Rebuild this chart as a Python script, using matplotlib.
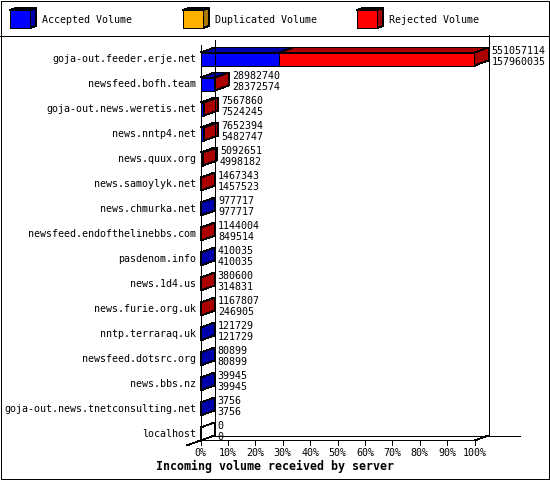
import matplotlib
matplotlib.use("Agg")
import matplotlib.pyplot as plt
from matplotlib.patches import Polygon, Rectangle

# data: first label = received, second = accepted
servers = [
    "goja-out.feeder.erje.net", "newsfeed.bofh.team", "goja-out.news.weretis.net",
    "news.nntp4.net", "news.quux.org", "news.samoylyk.net", "news.chmurka.net",
    "newsfeed.endofthelinebbs.com", "pasdenom.info", "news.1d4.us",
    "news.furie.org.uk", "nntp.terraraq.uk", "newsfeed.dotsrc.org", "news.bbs.nz",
    "goja-out.news.tnetconsulting.net", "localhost",
]
received = [551057114, 28982740, 7567860, 7652394, 5092651, 1467343, 977717,
            1144004, 410035, 380600, 1167807, 121729, 80899, 39945, 3756, 0]
accepted = [157960035, 28372574, 7524245, 5482747, 4998182, 1457523, 977717,
            849514, 410035, 314831, 246905, 121729, 80899, 39945, 3756, 0]
duplicated = [0, 0, 0, 0, 0, 0, 0, 0, 0, 0, 0, 0, 0, 0, 0, 0]

series_names = ["Accepted Volume", "Duplicated Volume", "Rejected Volume"]
face_colors = ["#0000ff", "#ffb000", "#ff0000"]
shade_colors = ["#0000aa", "#aa7500", "#aa0000"]
ticks = [0, 10, 20, 30, 40, 50, 60, 70, 80, 90, 100]
tick_labels = [f"{t}%" for t in ticks]
title = "Incoming volume received by server"

# layout in pixels
W, H = 550, 480
X0, X100 = 200.5, 474.5        # 0% and 100% on the front plane
ROW0, PITCH = 59.0, 25.0       # centre of first row, row spacing
BAR_H = 13.0
DEPTH_X, DEPTH_Y = 14.0, 5.0
LW = 0.6
FS = 7.2
MONO = "DejaVu Sans Mono"

sx = (X100 - X0) / 100.0
fig = plt.figure(figsize=(W / 100, H / 100), dpi=100)
fig.patch.set_facecolor("white")

# pixel overlay for frame, legend and title
pix = fig.add_axes([0, 0, 1, 1])
pix.set_xlim(0, W)
pix.set_ylim(H, 0)
pix.axis("off")

# chart axes: x in percent of largest server, y in row index
ax = fig.add_axes([0, 0, 1, 1])
ax.set_xlim((0 - X0) / sx, (W - X0) / sx)
ax.set_ylim((H - ROW0) / PITCH, (0 - ROW0) / PITCH)
ax.axis("off")

dx = DEPTH_X / sx
dy = DEPTH_Y / PITCH
hh = BAR_H / 2 / PITCH
n = len(servers)
floor = n - 1 + hh
wall_top = (45 - ROW0) / PITCH
sep_top = (35 - ROW0) / PITCH


def line(a, xs, ys):
    a.plot(xs, ys, color="black", lw=LW, antialiased=False, solid_capstyle="butt")


# walls and floor
line(ax, [0, 0], [wall_top, floor])
line(ax, [dx, dx], [wall_top - dy, floor - dy])
line(ax, [100 + dx, 100 + dx], [sep_top, floor - dy])
line(ax, [dx, 100 + dx + 31 / sx], [floor - dy, floor - dy])
line(ax, [0, 100, 100 + dx], [floor, floor, floor - dy])
line(ax, [-dx, 0], [floor + dy, floor])

scale = 100.0 / max(received)
for i, name in enumerate(servers):
    rejected = received[i] - accepted[i] - duplicated[i]
    widths = [accepted[i] * scale, duplicated[i] * scale, rejected * scale]
    top, bot = i - hh, i + hh
    x = 0.0
    side = "white"
    for w, fc, sc in zip(widths, face_colors, shade_colors):
        if w <= 0:
            continue
        ax.add_patch(Rectangle((x, top), w, 2 * hh, fc=fc, ec="black",
                               lw=LW, antialiased=False))
        ax.add_patch(Polygon([(x, top), (x + dx, top - dy), (x + w + dx, top - dy),
                              (x + w, top)], fc=sc, ec="black", lw=LW,
                             antialiased=False))
        x += w
        side = sc
    ax.add_patch(Polygon([(x, top), (x + dx, top - dy), (x + dx, bot - dy), (x, bot)],
                         fc=side, ec="black", lw=LW, antialiased=False))

    ax.annotate(name, (0, i), xytext=(-4.5, 0), textcoords="offset pixels",
                ha="right", va="center", fontsize=FS, family=MONO)
    ax.annotate(f"{received[i]}\n{accepted[i]}", (x + dx, i - dy / 2),
                xytext=(3, 0), textcoords="offset pixels", ha="left",
                va="center", fontsize=FS, family=MONO, linespacing=1.1)

for t, lab in zip(ticks, tick_labels):
    line(ax, [t, t], [floor, floor + 4 / PITCH])
    ax.annotate(lab, (t, floor), xytext=(0, -13), textcoords="offset pixels",
                ha="center", va="center", fontsize=FS, family=MONO)

pix.text(W / 2, 466, title, ha="center", va="center", fontsize=8.4,
         family=MONO, fontweight="bold")

# legend boxes
for name, fc, sc, lx in zip(series_names, face_colors, shade_colors, [10, 183, 357]):
    pix.add_patch(Polygon([(lx, 10), (lx + 6, 8), (lx + 26, 8), (lx + 20, 10)],
                          fc=sc, ec="black", lw=LW, antialiased=False))
    pix.add_patch(Polygon([(lx + 20, 10), (lx + 26, 8), (lx + 26, 26), (lx + 20, 28)],
                          fc=sc, ec="black", lw=LW, antialiased=False))
    pix.add_patch(Rectangle((lx, 10), 20, 18, fc=fc, ec="black", lw=LW,
                            antialiased=False))
    pix.text(lx + 32, 20, name, ha="left", va="center", fontsize=FS, family=MONO)

# outer frame and legend separator
line(pix, [0.5, W - 1.5, W - 1.5, 0.5, 0.5], [0.5, 0.5, H - 1.5, H - 1.5, 0.5])
line(pix, [0, W], [35.5, 35.5])

fig.savefig("out.png", dpi=100, facecolor="white")
